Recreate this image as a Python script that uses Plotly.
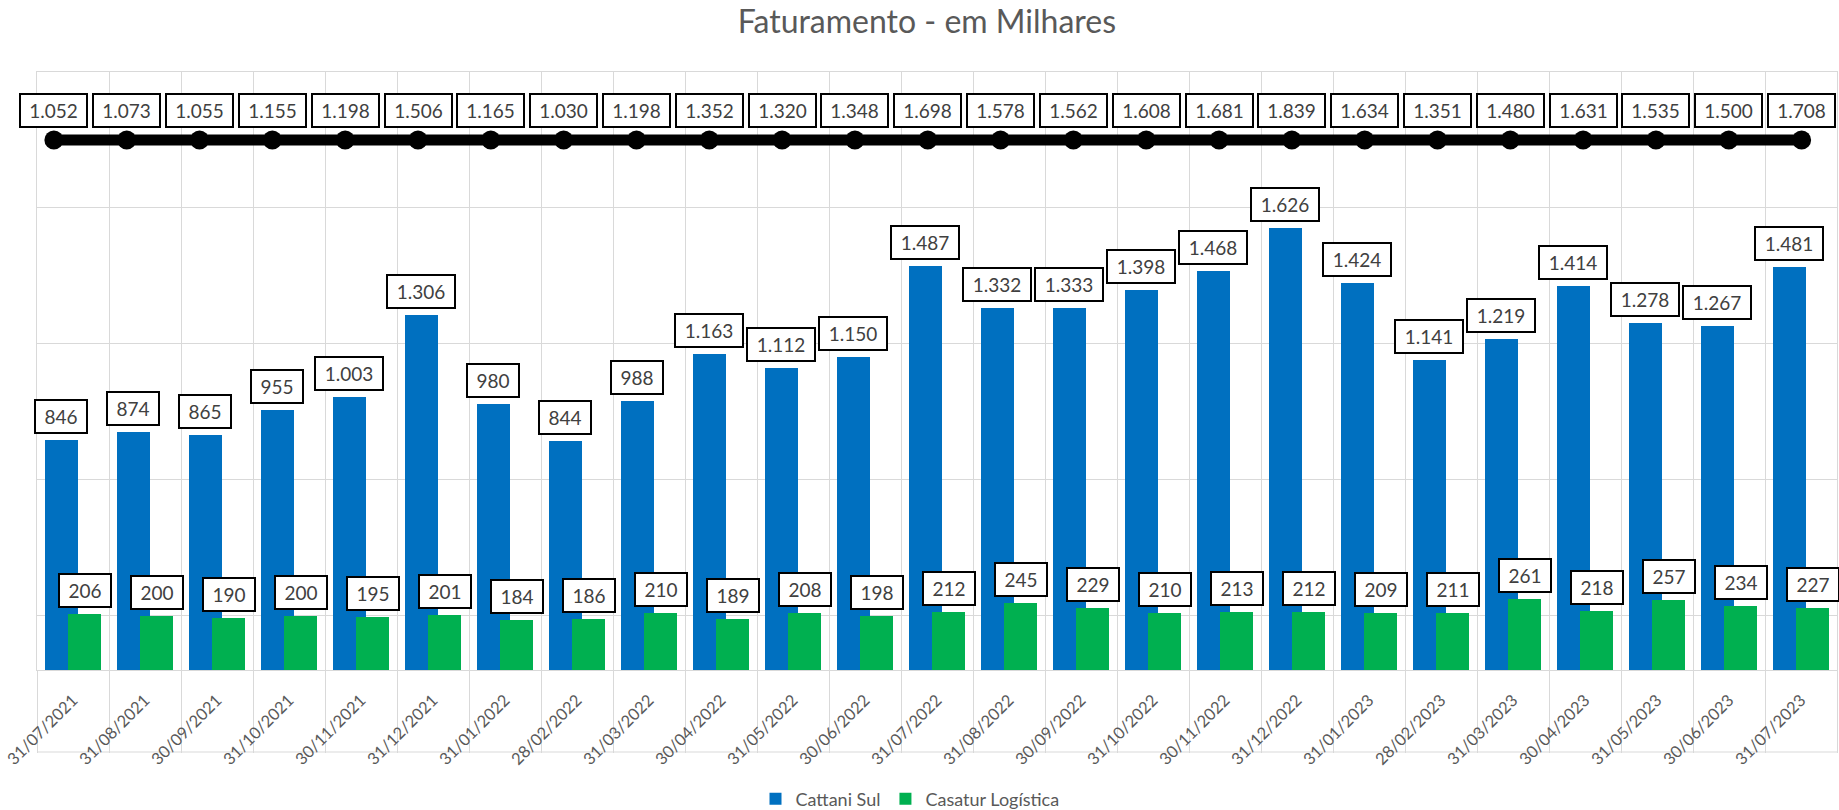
import plotly.graph_objects as go

# ---------------- data ----------------
datas = ["31/07/2021", "31/08/2021", "30/09/2021", "31/10/2021", "30/11/2021",
         "31/12/2021", "31/01/2022", "28/02/2022", "31/03/2022", "30/04/2022",
         "31/05/2022", "30/06/2022", "31/07/2022", "31/08/2022", "30/09/2022",
         "31/10/2022", "30/11/2022", "31/12/2022", "31/01/2023", "28/02/2023",
         "31/03/2023", "30/04/2023", "31/05/2023", "30/06/2023", "31/07/2023"]

cattani_sul = [846, 874, 865, 955, 1003, 1306, 980, 844, 988, 1163, 1112, 1150, 1487,
               1332, 1333, 1398, 1468, 1626, 1424, 1141, 1219, 1414, 1278, 1267, 1481]

casatur_logistica = [206, 200, 190, 200, 195, 201, 184, 186, 210, 189, 208, 198, 212,
                     245, 229, 210, 213, 212, 209, 211, 261, 218, 257, 234, 227]

# total shown in the label row (line series drawn at a constant level)
total = [1052, 1073, 1055, 1155, 1198, 1506, 1165, 1030, 1198, 1352, 1320, 1348, 1698,
         1578, 1562, 1608, 1681, 1839, 1634, 1351, 1480, 1631, 1535, 1500, 1708]

linha_total = [1950, 1950, 1950, 1950, 1950, 1950, 1950, 1950, 1950, 1950, 1950, 1950, 1950,
               1950, 1950, 1950, 1950, 1950, 1950, 1950, 1950, 1950, 1950, 1950, 1950]


def fmt(v):
    return f"{v:,}".replace(",", ".")


# ---------------- styles ----------------
FONT = "Lato"
BLUE = "#0070C0"
GREEN = "#00B050"
GRID = "#D9D9D9"
TXT = "#404040"

W, H = 1839, 810
ML, MR, MT, MB = 37, 2, 72, 140
plot_h = H - MT - MB

fig = go.Figure()

fig.add_trace(go.Bar(
    x=datas, y=cattani_sul, name="Cattani Sul",
    marker=dict(color=BLUE, line=dict(width=0)),
    offset=-0.387, width=0.453, hoverinfo="x+y",
))
fig.add_trace(go.Bar(
    x=datas, y=casatur_logistica, name="Casatur Logística",
    marker=dict(color=GREEN, line=dict(width=0)),
    offset=-0.067, width=0.453, hoverinfo="x+y",
))
fig.add_trace(go.Scatter(
    x=datas, y=linha_total, name="Total", mode="lines+markers",
    xaxis="x2", yaxis="y",
    line=dict(color="black", width=11),
    marker=dict(color="black", size=19),
    showlegend=False, hoverinfo="skip",
))

annotations = []
box_common = dict(showarrow=False, bgcolor="white", bordercolor="black",
                  borderwidth=2, borderpad=1, height=29,
                  font=dict(family=FONT, size=19, color=TXT), yanchor="bottom")

for d, v in zip(datas, cattani_sul):
    annotations.append(dict(x=d, y=v, xref="x", yref="y", text=fmt(v),
                            width=64 if v >= 1000 else 48,
                            xshift=-11.6, yshift=6, **box_common))
for d, v in zip(datas, casatur_logistica):
    annotations.append(dict(x=d, y=v, xref="x", yref="y", text=fmt(v),
                            width=64 if v >= 1000 else 48,
                            xshift=11.6, yshift=6, **box_common))
for d, v, t in zip(datas, linha_total, total):
    annotations.append(dict(x=d, y=v, xref="x2", yref="y", text=fmt(t),
                            width=63, yshift=12, **box_common))

fig.update_layout(
    width=W, height=H,
    margin=dict(l=ML, r=MR, t=MT, b=MB, autoexpand=False),
    paper_bgcolor="white", plot_bgcolor="white",
    barmode="overlay",
    font=dict(family=FONT, color="#595959"),
    title=dict(text="Faturamento - em Milhares", x=0.504, xref="container",
               y=1 - 21.5 / H, yref="container", xanchor="center", yanchor="middle",
               font=dict(family=FONT, size=32, color="#595959")),
    xaxis=dict(
        type="category", categoryorder="array", categoryarray=datas,
        range=[-0.5, 24.5], automargin=False,
        tickson="boundaries", ticks="outside", ticklen=82, tickcolor=GRID, tickwidth=1,
        showgrid=True, gridcolor=GRID, gridwidth=1,
        showline=True, linecolor=GRID, linewidth=1, mirror=True,
        tickangle=-45, tickfont=dict(family=FONT, size=16.5, color="#595959"),
        ticklabelstandoff=13,
        fixedrange=True,
    ),
    xaxis2=dict(
        type="category", categoryorder="array", categoryarray=datas,
        overlaying="x", range=[-0.232, 24.486], visible=False, fixedrange=True,
        automargin=False,
    ),
    yaxis=dict(
        range=[0, 2200], tick0=200, dtick=500, automargin=False,
        showticklabels=False, ticks="",
        showgrid=True, gridcolor=GRID, gridwidth=1,
        zeroline=False, showline=True, linecolor=GRID, mirror=True,
        fixedrange=True,
    ),
    legend=dict(orientation="h", x=0.485, xanchor="center",
                y=-(799 - (H - MB)) / plot_h, yanchor="middle",
                font=dict(family=FONT, size=18, color="#595959"),
                itemwidth=30, traceorder="normal"),
    annotations=annotations,
    shapes=[dict(type="line", xref="paper", yref="paper", x0=0, x1=1,
                 y0=-82 / plot_h, y1=-82 / plot_h,
                 line=dict(color=GRID, width=1), layer="below")],
    bargap=0,
)

fig.write_html("out.html",
               config={"displayModeBar": False},
               post_script="document.body.style.margin='0';document.body.style.overflow='hidden';")
